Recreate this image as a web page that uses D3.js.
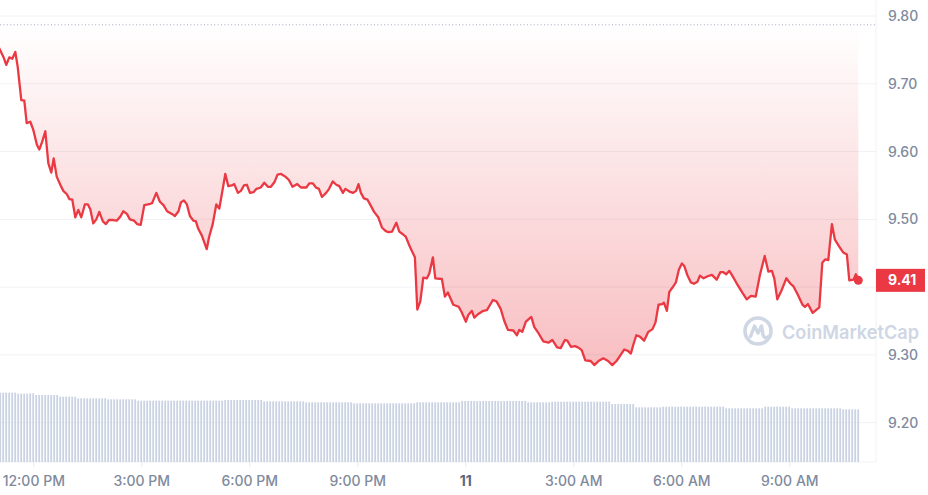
<!DOCTYPE html>
<html>
<head>
<meta charset="utf-8">
<script src="https://cdn.jsdelivr.net/npm/d3@7"></script>
<style>
  html, body { margin: 0; padding: 0; background: #fff; }
  svg { display: block; font-family: Inter, "Noto Sans", sans-serif; }
</style>
</head>
<body>
<script>
// price readings: minutes after 11:00 AM on the 10th, and price
const minutes = [
  -5, 0, 10, 15, 20, 25, 30, 34, 40, 45,
  49, 55, 60, 66, 70, 75, 80, 85, 90, 94,
  99, 105, 110, 116, 120, 125, 130, 135, 140, 146,
  151, 155, 160, 165, 170, 176, 181, 186, 193, 199,
  205, 210, 216, 221, 228, 233, 239, 245, 255, 258,
  265, 271, 277, 283, 291, 296, 302, 306, 311, 316,
  321, 327, 331, 335, 341, 345, 349, 353, 359, 365,
  370, 375, 380, 385, 391, 395, 401, 406, 411, 416,
  421, 427, 432, 439, 445, 451, 456, 462, 467, 473,
  480, 486, 492, 500, 506, 515, 520, 526, 531, 536,
  541, 548, 553, 559, 565, 570, 576, 580, 587, 593,
  598, 602, 606, 611, 617, 622, 628, 635, 641, 647,
  652, 658, 665, 670, 676, 681, 686, 690, 696, 700,
  705, 710, 716, 720, 726, 730, 741, 746, 751, 760,
  769, 774, 781, 785, 791, 795, 801, 810, 816, 826,
  832, 839, 845, 851, 860, 866, 870, 875, 881, 890,
  895, 902, 910, 919, 925, 933, 939, 946, 950, 956,
  963, 968, 974, 980, 989, 995, 1002, 1010, 1018, 1025,
  1032, 1039, 1045, 1051, 1056, 1060, 1065, 1071, 1078, 1085,
  1092, 1097, 1102, 1108, 1111, 1116, 1120, 1125, 1131, 1136,
  1141, 1145, 1150, 1156, 1161, 1167, 1171, 1177, 1184, 1191,
  1199, 1205, 1210, 1215, 1220, 1225, 1232, 1241, 1249, 1256,
  1264, 1271, 1279, 1285, 1291, 1295, 1300, 1307, 1315, 1322,
  1327, 1334, 1342, 1346, 1351, 1359, 1370, 1375, 1380, 1385,
  1391, 1396, 1403, 1410, 1416, 1420, 1427, 1431, 1435
];
const prices = [
  9.787, 9.758, 9.740, 9.728, 9.739, 9.737, 9.747, 9.725, 9.676, 9.675,
  9.642, 9.644, 9.632, 9.610, 9.603, 9.615, 9.630, 9.583, 9.569, 9.590,
  9.563, 9.551, 9.542, 9.537, 9.530, 9.529, 9.503, 9.514, 9.503, 9.522,
  9.522, 9.515, 9.494, 9.500, 9.511, 9.497, 9.493, 9.499, 9.499, 9.498,
  9.504, 9.512, 9.508, 9.500, 9.498, 9.493, 9.492, 9.521, 9.523, 9.524,
  9.539, 9.526, 9.521, 9.512, 9.508, 9.505, 9.512, 9.525, 9.528, 9.522,
  9.505, 9.498, 9.497, 9.486, 9.476, 9.466, 9.456, 9.474, 9.493, 9.522,
  9.516, 9.541, 9.567, 9.549, 9.550, 9.552, 9.539, 9.542, 9.550, 9.551,
  9.539, 9.540, 9.545, 9.547, 9.554, 9.548, 9.548, 9.555, 9.566, 9.567,
  9.563, 9.558, 9.548, 9.552, 9.547, 9.547, 9.553, 9.553, 9.547, 9.545,
  9.533, 9.539, 9.545, 9.556, 9.551, 9.549, 9.539, 9.545, 9.541, 9.539,
  9.542, 9.552, 9.539, 9.531, 9.529, 9.521, 9.511, 9.503, 9.488, 9.483,
  9.481, 9.482, 9.495, 9.482, 9.478, 9.474, 9.463, 9.455, 9.444, 9.367,
  9.379, 9.414, 9.413, 9.420, 9.444, 9.413, 9.412, 9.386, 9.392, 9.374,
  9.371, 9.363, 9.349, 9.359, 9.365, 9.355, 9.360, 9.365, 9.366, 9.381,
  9.379, 9.368, 9.350, 9.337, 9.336, 9.329, 9.337, 9.334, 9.349, 9.356,
  9.341, 9.332, 9.320, 9.318, 9.322, 9.311, 9.310, 9.322, 9.321, 9.312,
  9.313, 9.311, 9.307, 9.292, 9.291, 9.285, 9.291, 9.295, 9.291, 9.285,
  9.291, 9.300, 9.308, 9.306, 9.302, 9.315, 9.329, 9.327, 9.321, 9.334,
  9.338, 9.348, 9.374, 9.375, 9.377, 9.365, 9.393, 9.399, 9.407, 9.426,
  9.435, 9.431, 9.418, 9.407, 9.405, 9.408, 9.417, 9.413, 9.416, 9.418,
  9.411, 9.422, 9.422, 9.419, 9.424, 9.417, 9.406, 9.393, 9.382, 9.387,
  9.386, 9.418, 9.446, 9.423, 9.424, 9.413, 9.382, 9.395, 9.413, 9.405,
  9.401, 9.389, 9.374, 9.371, 9.375, 9.362, 9.370, 9.436, 9.441, 9.440,
  9.493, 9.470, 9.460, 9.451, 9.448, 9.410, 9.411, 9.419, 9.410
];
// volume, 5 minute bars from 11:00 AM, as runs of equal bars (count, value in $M)
const volumeRuns = [7, 4, 2, 8, 6, 10, 10, 29, 13, 14, 16, 21, 15, 22, 8, 20, 8, 9, 21, 13, 9, 17, 6];
const volumeValues = [41.6, 41.0, 41.2, 40.2, 39.2, 38.2, 37.6, 36.8, 37.2, 36.4, 35.8, 35.2, 35.8,
  36.6, 35.8, 36.2, 34.8, 32.8, 33.2, 32.2, 33.2, 32.2, 31.6];
const priceTicks = [9.2, 9.3, 9.4, 9.5, 9.6, 9.7, 9.8];
const openPrice = 9.787;
const lastPrice = 9.41;

const W = 928, H = 495;
const plotRight = 876, plotTop = 16, plotBottom = 462;
const red = "#ea3943";

const t0 = new Date(2023, 6, 10, 11, 0);
const at = (m) => new Date(t0.getTime() + m * 60000);

const data = minutes.map((m, i) => ({ t: at(m), p: prices[i] }));

let volume = [];
let k = 0;
volumeRuns.forEach((n, i) => {
  for (let j = 0; j < n; j++) {
    volume.push({ t: at(k * 5), v: volumeValues[i] });
    k++;
  }
});

const x = d3.scaleTime()
  .domain([at(4.5), at(1464.5)])
  .range([0, plotRight]);
const y = d3.scaleLinear()
  .domain([9.142, 9.80])
  .range([plotBottom, plotTop]);
const yv = d3.scaleLinear()
  .domain([0, 60])
  .range([plotBottom, plotBottom - 100]);

const svg = d3.select("body").append("svg")
  .attr("width", W)
  .attr("height", H);

const defs = svg.append("defs");
defs.append("clipPath").attr("id", "plot")
  .append("rect")
  .attr("x", 0).attr("y", 0)
  .attr("width", plotRight).attr("height", plotBottom);

const grad = defs.append("linearGradient")
  .attr("id", "fillGrad")
  .attr("gradientUnits", "userSpaceOnUse")
  .attr("x1", 0).attr("x2", 0)
  .attr("y1", y(openPrice)).attr("y2", y(9.28));
grad.append("stop").attr("offset", "0%").attr("stop-color", red).attr("stop-opacity", 0);
grad.append("stop").attr("offset", "100%").attr("stop-color", red).attr("stop-opacity", 0.33);

// grid
svg.append("g")
  .selectAll("line")
  .data(priceTicks)
  .join("line")
  .attr("x1", 0)
  .attr("x2", plotRight)
  .attr("y1", (d) => y(d))
  .attr("y2", (d) => y(d))
  .attr("stroke", "#eff2f5");

// frame on right and bottom
svg.append("line")
  .attr("x1", plotRight).attr("x2", plotRight)
  .attr("y1", 0).attr("y2", plotBottom)
  .attr("stroke", "#eff2f5");
svg.append("line")
  .attr("x1", 0).attr("x2", plotRight)
  .attr("y1", plotBottom).attr("y2", plotBottom)
  .attr("stroke", "#eff2f5");

const plot = svg.append("g").attr("clip-path", "url(#plot)");

// volume bars
plot.append("g")
  .selectAll("rect")
  .data(volume)
  .join("rect")
  .attr("x", (d) => x(d.t) - 1)
  .attr("width", 1.8)
  .attr("y", (d) => yv(d.v))
  .attr("height", (d) => plotBottom - yv(d.v))
  .attr("fill", "#cbd3e3");

// area between price and open price
plot.append("path")
  .datum(data)
  .attr("fill", "url(#fillGrad)")
  .attr("d", d3.area()
    .x((d) => x(d.t))
    .y0(y(openPrice))
    .y1((d) => y(d.p)));

// open price dotted line
svg.append("line")
  .attr("x1", 0).attr("x2", plotRight)
  .attr("y1", y(openPrice)).attr("y2", y(openPrice))
  .attr("stroke", "#a1a7bb")
  .attr("stroke-width", 1)
  .attr("stroke-dasharray", "1,2.4");

// watermark
const wm = svg.append("g").attr("transform", "translate(758,331)");
wm.append("circle")
  .attr("r", 13)
  .attr("fill", "none")
  .attr("stroke", "#cfd6e4")
  .attr("stroke-width", 3.6);
wm.append("path")
  .attr("d", "M-7.5,5.5 L-3.5,-5 L0,2 L3.5,-5 L5,4 Q7,8.5 10.5,5.5")
  .attr("fill", "none")
  .attr("stroke", "#cfd6e4")
  .attr("stroke-width", 3.4)
  .attr("stroke-linejoin", "round")
  .attr("stroke-linecap", "round");
svg.append("text")
  .attr("x", 782)
  .attr("y", 339)
  .attr("font-size", 19)
  .attr("font-weight", 600)
  .attr("fill", "#cfd6e4")
  .attr("textLength", 137)
  .attr("lengthAdjust", "spacingAndGlyphs")
  .text("CoinMarketCap");

// price line
plot.append("path")
  .datum(data)
  .attr("fill", "none")
  .attr("stroke", red)
  .attr("stroke-width", 2.3)
  .attr("stroke-linejoin", "round")
  .attr("d", d3.line()
    .x((d) => x(d.t))
    .y((d) => y(d.p)));

const last = data[data.length - 1];
svg.append("circle")
  .attr("cx", x(last.t))
  .attr("cy", y(last.p))
  .attr("r", 4.5)
  .attr("fill", red);

// y axis
const yAxis = svg.append("g")
  .attr("transform", `translate(${plotRight},0)`)
  .call(d3.axisRight(y)
    .tickValues(priceTicks.filter((d) => Math.abs(y(d) - y(lastPrice)) > 14))
    .tickSize(0)
    .tickPadding(12)
    .tickFormat(d3.format(".2f")));
yAxis.select(".domain").remove();
yAxis.selectAll("text")
  .attr("font-family", "Inter, sans-serif")
  .attr("font-size", 14)
  .attr("font-weight", 500)
  .attr("fill", "#808a9d");

// current price label
const tag = svg.append("g").attr("transform", `translate(${plotRight},${y(lastPrice)})`);
tag.append("rect")
  .attr("x", 0).attr("y", -11.5)
  .attr("width", 49).attr("height", 23)
  .attr("fill", red);
tag.append("text")
  .attr("x", 12)
  .attr("dy", "0.35em")
  .attr("font-size", 14)
  .attr("font-weight", 700)
  .attr("fill", "#fff")
  .text(d3.format(".2f")(lastPrice));

// x axis
const timeFmt = d3.timeFormat("%-I:%M %p");
const xAxis = svg.append("g")
  .attr("transform", `translate(0,${plotBottom})`)
  .call(d3.axisBottom(x)
    .ticks(d3.timeHour.every(3))
    .tickSize(5)
    .tickFormat((d) => (d.getHours() === 0 ? d.getDate() : timeFmt(d))));
xAxis.select(".domain").remove();
xAxis.selectAll("line").attr("stroke", "#e6e9ee");
xAxis.selectAll("text")
  .attr("y", 19)
  .attr("dy", "0.35em")
  .attr("font-family", "Inter, sans-serif")
  .attr("font-size", 14)
  .attr("font-weight", (d) => (d.getHours() === 0 ? 700 : 500))
  .attr("fill", (d) => (d.getHours() === 0 ? "#58667e" : "#808a9d"));
</script>
</body>
</html>
